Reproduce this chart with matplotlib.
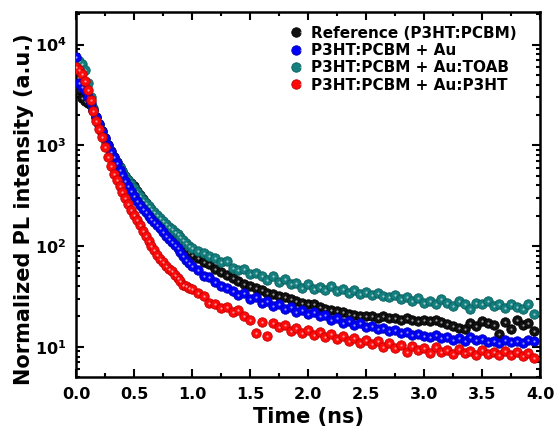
import numpy as np
import matplotlib
matplotlib.use("Agg")
import matplotlib.pyplot as plt
from matplotlib.ticker import LogLocator, MultipleLocator, LogFormatterMathtext, NullFormatter
from matplotlib.legend_handler import HandlerTuple

plt.rcParams['font.family'] = ['DejaVu Sans']
plt.rcParams['font.weight'] = 'bold'
plt.rcParams['mathtext.fontset'] = 'dejavusans'
plt.rcParams['mathtext.default'] = 'bf'

# time axis (ns): fine step early, coarser in the tail
t = [0.000, 0.025, 0.050, 0.075, 0.100, 0.125, 0.150, 0.175, 0.200, 0.225,
     0.250, 0.275, 0.300, 0.325, 0.350, 0.375, 0.400, 0.425, 0.450, 0.475,
     0.500, 0.525, 0.550, 0.575, 0.600, 0.625, 0.650, 0.675, 0.700, 0.725,
     0.750, 0.775, 0.800, 0.825, 0.850, 0.875, 0.900, 0.925, 0.950, 0.975,
     1.00, 1.05, 1.10, 1.15, 1.20, 1.25, 1.30, 1.35, 1.40, 1.45,
     1.50, 1.55, 1.60, 1.65, 1.70, 1.75, 1.80, 1.85, 1.90, 1.95,
     2.00, 2.05, 2.10, 2.15, 2.20, 2.25, 2.30, 2.35, 2.40, 2.45,
     2.50, 2.55, 2.60, 2.65, 2.70, 2.75, 2.80, 2.85, 2.90, 2.95,
     3.00, 3.05, 3.10, 3.15, 3.20, 3.25, 3.30, 3.35, 3.40, 3.45,
     3.50, 3.55, 3.60, 3.65, 3.70, 3.75, 3.80, 3.85, 3.90, 3.95]

# Reference (P3HT:PCBM)
ref = [5495, 3548, 2951, 2754, 2630, 2512, 2239, 1905, 1622, 1380,
       1175, 1000, 871, 759, 676, 603, 550, 501, 457, 427,
       398, 355, 324, 295, 269, 245, 229, 209, 195, 178,
       166, 155, 145, 132, 123, 115, 107, 100, 93, 87,
       81.3, 75.9, 69.2, 66.1, 58.9, 55.0, 51.3, 47.9, 44.7, 41.7,
       39.8, 38.0, 36.3, 33.9, 33.1, 31.6, 30.9, 29.5, 28.8, 27.5,
       26.9, 26.3, 25.1, 24.0, 23.4, 22.9, 22.4, 21.4, 20.9, 20.4,
       20.0, 20.4, 19.5, 20.0, 19.1, 19.5, 18.6, 19.1, 18.6, 18.2,
       18.6, 18.2, 18.6, 17.8, 17.0, 16.2, 15.5, 15.1, 17.4, 16.2,
       18.2, 17.4, 16.6, 13.5, 17.8, 15.1, 18.6, 16.6, 17.4, 14.5]

# P3HT:PCBM + Au
au = [7586, 4169, 3802, 3548, 3020, 2630, 2239, 1905, 1622, 1380,
      1175, 1000, 851, 759, 661, 575, 513, 447, 398, 355,
      316, 282, 257, 234, 219, 200, 186, 174, 162, 151,
      138, 126, 117, 110, 102, 95, 87, 79, 72, 68,
      63.1, 57.5, 50.1, 49.0, 43.7, 39.8, 38.0, 35.5, 32.4, 33.9,
      29.5, 30.9, 27.5, 28.8, 25.7, 26.9, 24.0, 25.1, 22.4, 23.4,
      21.4, 22.4, 20.0, 20.9, 18.6, 19.5, 17.4, 18.2, 16.6, 17.4,
      15.8, 16.2, 15.1, 15.5, 14.5, 14.8, 13.8, 14.1, 13.2, 13.5,
      12.9, 12.6, 13.2, 12.3, 12.6, 11.7, 12.3, 11.5, 12.6, 11.7,
      12.0, 11.2, 11.5, 11.0, 11.7, 11.2, 11.5, 11.0, 11.7, 11.5]

# P3HT:PCBM + Au:TOAB
au_toab = [7244, 6918, 6457, 5623, 4169, 3020, 2344, 1905, 1585, 1318,
           1122, 955, 832, 741, 661, 603, 550, 501, 457, 417,
           380, 347, 316, 288, 269, 251, 234, 219, 204, 191,
           178, 166, 155, 148, 138, 132, 123, 115, 107, 100,
           95.5, 89.1, 85.1, 79.4, 75.9, 69.2, 70.8, 60.3, 57.5, 58.9,
           52.5, 53.7, 50.1, 45.7, 50.1, 43.7, 46.8, 41.7, 42.7, 38.0,
           41.7, 37.2, 38.9, 36.3, 39.8, 35.5, 37.2, 33.9, 36.3, 33.1,
           34.7, 32.4, 33.9, 31.6, 30.9, 32.4, 29.5, 30.9, 28.2, 30.2,
           27.5, 28.8, 26.9, 29.5, 27.5, 25.7, 28.2, 26.9, 24.0, 27.5,
           26.3, 28.2, 25.7, 26.9, 24.5, 26.9, 25.1, 24.0, 26.3, 21.4]

# P3HT:PCBM + Au:P3HT
au_p3ht = [6026, 5623, 5129, 4365, 3548, 2818, 2188, 1738, 1445, 1202,
           955, 759, 617, 525, 457, 398, 347, 302, 263, 229,
           204, 182, 162, 141, 126, 112, 100, 91, 81, 74,
           69, 63, 59, 56, 52, 48, 45, 41, 40, 38,
           37.2, 33.9, 31.6, 27.5, 26.9, 24.5, 25.1, 22.4, 23.4, 20.4,
           18.6, 13.8, 17.8, 12.9, 17.4, 15.8, 16.6, 14.5, 15.5, 13.8,
           14.8, 13.2, 14.1, 12.6, 13.5, 12.0, 12.9, 11.5, 12.3, 11.0,
           11.7, 10.7, 11.5, 10.0, 11.0, 9.8, 10.5, 8.9, 10.2, 9.3,
           9.8, 8.7, 10.0, 8.9, 9.3, 8.5, 9.5, 8.7, 9.1, 8.3,
           9.3, 8.5, 8.9, 8.3, 9.1, 8.3, 8.9, 8.1, 8.7, 7.8]

labels = ["Reference (P3HT:PCBM)", "P3HT:PCBM + Au",
          "P3HT:PCBM + Au:TOAB", "P3HT:PCBM + Au:P3HT"]
colors = ["#111111", "#0000ff", "#13807f", "#ff0a0a"]
edges = ["#000000", "#0000b0", "#0a5e5e", "#c00000"]
series = [ref, au, au_toab, au_p3ht]
zords = [3, 5, 4, 6]

fig = plt.figure(figsize=(5.55, 4.32), dpi=100)
ax = fig.add_axes([0.137, 0.127, 0.836, 0.845])

handles = []
for y, c, ec, lab, z in zip(series, colors, edges, labels, zords):
    h1, = ax.plot(t, y, 'o', ms=6.8, mfc=c, mec=ec, mew=0.6, ls='none', zorder=z)
    h2, = ax.plot(t, y, 'o', ms=1.6, mfc='white', mec='none', alpha=0.6, ls='none', zorder=z)
    handles.append((h1, h2))

ax.set_yscale('log')
ax.set_xlim(0, 4.0)
ax.set_ylim(5, 2.1e4)

ax.xaxis.set_major_locator(MultipleLocator(0.5))
ax.xaxis.set_minor_locator(MultipleLocator(0.25))
ax.yaxis.set_major_locator(LogLocator(base=10))
ax.yaxis.set_minor_locator(LogLocator(base=10, subs=np.arange(2, 10)))
ax.yaxis.set_major_formatter(LogFormatterMathtext())
ax.yaxis.set_minor_formatter(NullFormatter())

ax.tick_params(which='both', direction='in', top=True, right=True, width=1.5)
ax.tick_params(which='major', length=6, labelsize=11.5)
ax.tick_params(axis='x', which='major', pad=7)
ax.tick_params(axis='y', which='major', pad=7)
ax.tick_params(which='minor', length=3)
ax.set_xticks([0.0, 0.5, 1.0, 1.5, 2.0, 2.5, 3.0, 3.5, 4.0])
ax.set_xticklabels(["%.1f" % v for v in ax.get_xticks()], fontweight='bold')
for s in ax.spines.values():
    s.set_linewidth(1.8)

ax.set_xlabel("Time (ns)", fontsize=15, fontweight='bold', labelpad=4)
ax.set_ylabel("Normalized PL intensity (a.u.)", fontsize=15, fontweight='bold')
ax.yaxis.set_label_coords(-0.09, 0.46)

ax.legend(handles, labels, loc='upper right', frameon=False,
          handler_map={tuple: HandlerTuple(ndivide=None, pad=0)},
          prop={'size': 11, 'weight': 'bold'}, handlelength=0.7,
          handletextpad=0.5, labelspacing=0.15, borderaxespad=0.6,
          borderpad=0.3, bbox_to_anchor=(0.98, 1.0))

fig.savefig("out.png", dpi=100)
